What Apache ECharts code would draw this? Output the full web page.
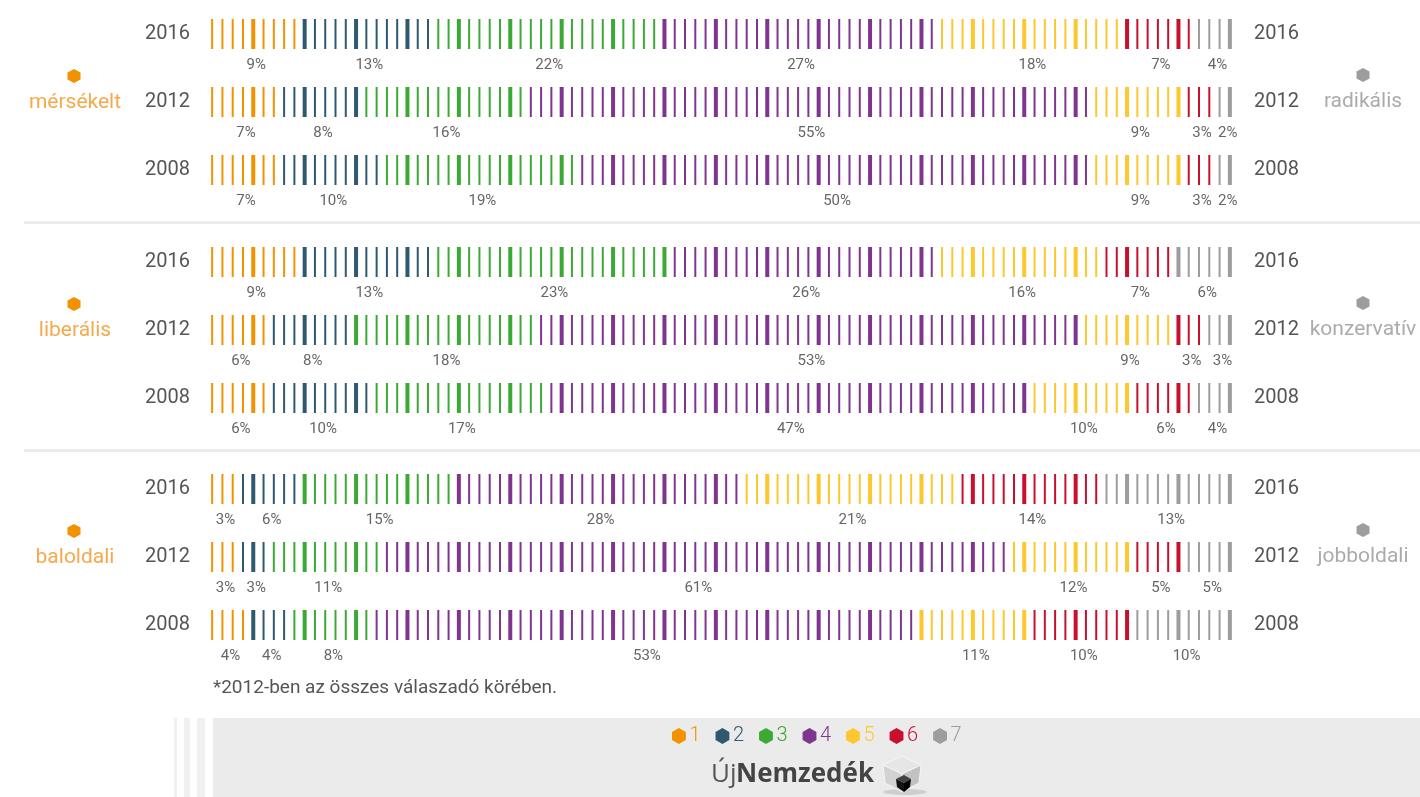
<!DOCTYPE html>
<html>
<head>
<meta charset="utf-8">
<script src="https://cdn.jsdelivr.net/npm/echarts@6/dist/echarts.min.js"></script>
<style>
  html, body { margin: 0; padding: 0; background: #fff; }
  #chart { width: 1420px; height: 797px; }
</style>
</head>
<body>
<div id="chart"></div>
<script>
// Answer categories 1..7 and their colours
const categories = ['1', '2', '3', '4', '5', '6', '7'];
const catColors = ['#f39200', '#2e5a70', '#3aaa35', '#7f3590', '#fdc72e', '#c8102e', '#9d9d9d'];

// Survey years, top to bottom within each block
const years = ['2016', '2012', '2008'];

// Scale end-point labels for each block
const leftLabels = ['mérsékelt', 'liberális', 'baloldali'];
const rightLabels = ['radikális', 'konzervatív', 'jobboldali'];

// Share of respondents (%) per category, rows = 2016, 2012, 2008
const mersekelt = [
  [9, 13, 22, 27, 18, 7, 4],
  [7, 8, 16, 55, 9, 3, 2],
  [7, 10, 19, 50, 9, 3, 2]
];
const liberalis = [
  [9, 13, 23, 26, 16, 7, 6],
  [6, 8, 18, 53, 9, 3, 3],
  [6, 10, 17, 47, 10, 6, 4]
];
const baloldali = [
  [3, 6, 15, 28, 21, 14, 13],
  [3, 3, 11, 61, 12, 5, 5],
  [4, 4, 8, 53, 11, 10, 10]
];
const blocks = [mersekelt, liberalis, baloldali];

const footnote = '*2012-ben az összes válaszadó körében.';

const FONT = 'Roboto, "Noto Sans", sans-serif';
const ROW_H = 68;
const gridTops = [0, 228, 455];
const GRID_LEFT = 207;
const GRID_W = 1028;

const chart = echarts.init(document.getElementById('chart'), null, { renderer: 'canvas' });

const grids = [], xAxes = [], yAxes = [], series = [];

blocks.forEach((block, g) => {
  grids.push({ left: GRID_LEFT, width: GRID_W, top: gridTops[g], height: ROW_H * 3 });
  xAxes.push({ gridIndex: g, type: 'value', min: 0, max: 100, show: false });
  const yBase = {
    gridIndex: g, type: 'category', data: years, inverse: true,
    axisLine: { show: false }, axisTick: { show: false }, splitLine: { show: false }
  };
  yAxes.push(Object.assign({}, yBase, {
    position: 'left',
    axisLabel: { margin: 17, fontSize: 20, color: '#555', fontFamily: FONT, padding: [4, 0, 0, 0] }
  }));
  yAxes.push(Object.assign({}, yBase, {
    position: 'right',
    axisLabel: { margin: 19, fontSize: 20, color: '#555', fontFamily: FONT, padding: [4, 0, 0, 0] }
  }));

  // one custom series per category; each data item is one segment of a row
  categories.forEach((cat, c) => {
    const data = block.map((row, yi) => {
      const start = row.slice(0, c).reduce((a, b) => a + b, 0);
      return [start, yi, row[c], row[c]];
    });
    series.push({
      type: 'custom',
      name: cat,
      xAxisIndex: g,
      yAxisIndex: g * 2,
      itemStyle: { color: catColors[c] },
      data: data,
      silent: true,
      renderItem: function (params, api) {
        const start = api.value(0);
        const yi = api.value(1);
        const n = api.value(2);
        const pct = api.value(3);
        const children = [];
        for (let k = 0; k < n; k++) {
          const i = start + k;
          const p = api.coord([i + 0.5, yi]);
          const w = (i % 5 === 4) ? 4 : 2;
          children.push({
            type: 'rect',
            shape: { x: p[0] - w / 2, y: p[1] - 15, width: w, height: 30 },
            style: { fill: catColors[c] }
          });
        }
        const m = api.coord([start + n / 2, yi]);
        children.push({
          type: 'text',
          style: {
            x: m[0] + 3, y: m[1] + 31, text: pct + '%',
            fill: '#666', font: '15px ' + FONT,
            textAlign: 'center', textVerticalAlign: 'middle'
          }
        });
        return { type: 'group', children: children };
      }
    });
  });
});

function hexPoints(cx, cy, rx, ry) {
  return [[cx, cy - ry], [cx + rx, cy - ry / 2], [cx + rx, cy + ry / 2],
          [cx, cy + ry], [cx - rx, cy + ry / 2], [cx - rx, cy - ry / 2]];
}

const graphics = [];

// block separators
[222.5, 450.5].forEach(y => {
  graphics.push({
    type: 'line', shape: { x1: 24, y1: y, x2: 1420, y2: y },
    style: { stroke: '#ebebeb', lineWidth: 3 }, silent: true
  });
});

// scale end-point labels with hexagon markers
gridTops.forEach((top, g) => {
  const cy = top + ROW_H * 1.5;
  graphics.push({ type: 'polygon', shape: { points: hexPoints(74, cy - 26, 6.5, 7) }, style: { fill: '#f39200' } });
  graphics.push({
    type: 'text', style: {
      x: 75, y: cy + 1, text: leftLabels[g], fill: '#f6a94c',
      font: '21px ' + FONT, textAlign: 'center', textVerticalAlign: 'middle'
    }
  });
  graphics.push({ type: 'polygon', shape: { points: hexPoints(1363, cy - 27, 6.5, 7) }, style: { fill: '#9d9d9d' } });
  graphics.push({
    type: 'text', style: {
      x: 1363, y: cy, text: rightLabels[g], fill: '#ababab',
      font: '21px ' + FONT, textAlign: 'center', textVerticalAlign: 'middle'
    }
  });
});

// footnote
graphics.push({
  type: 'text', style: {
    x: 213, y: 688, text: footnote, fill: '#555',
    font: '19px ' + FONT, textAlign: 'left', textVerticalAlign: 'middle'
  }
});

// footer band
graphics.push({ type: 'rect', z: -10, shape: { x: 213, y: 718, width: 1207, height: 79 }, style: { fill: '#ebebeb' } });
[[174, 3], [184, 6], [197, 8]].forEach(s => {
  graphics.push({ type: 'rect', z: -10, shape: { x: s[0], y: 718, width: s[1], height: 79 }, style: { fill: '#f0f0f0' } });
});

// logo wordmark
graphics.push({
  type: 'text', style: {
    x: 711, y: 775, text: 'Új', fill: '#555',
    font: '26px "Open Sans", sans-serif', textAlign: 'left', textVerticalAlign: 'middle'
  }
});
graphics.push({
  type: 'text', style: {
    x: 736, y: 775, text: 'Nemzedék', fill: '#444',
    font: 'bold 26px "Open Sans", sans-serif', textAlign: 'left', textVerticalAlign: 'middle'
  }
});
// logo cube
graphics.push({ type: 'ellipse', shape: { cx: 905, cy: 792, rx: 22, ry: 3 }, style: { fill: 'rgba(0,0,0,0.12)' } });
graphics.push({ type: 'polygon', shape: { points: [[902, 756], [921, 765], [902, 774], [883, 765]] }, style: { fill: '#e6e6e6', stroke: '#f6f6f6', lineWidth: 1 } });
graphics.push({ type: 'polygon', shape: { points: [[883, 765], [902, 774], [902, 792], [885, 783]] }, style: { fill: '#d2d2d2', stroke: '#f6f6f6', lineWidth: 1 } });
graphics.push({ type: 'polygon', shape: { points: [[902, 774], [921, 765], [919, 783], [902, 792]] }, style: { fill: '#c2c2c2', stroke: '#f6f6f6', lineWidth: 1 } });
graphics.push({ type: 'polygon', shape: { points: [[896, 779], [904, 775], [911, 779], [904, 783]] }, style: { fill: '#444' } });
graphics.push({ type: 'polygon', shape: { points: [[896, 779], [904, 783], [904, 792], [897, 787]] }, style: { fill: '#111' } });
graphics.push({ type: 'polygon', shape: { points: [[904, 783], [911, 779], [910, 787], [904, 792]] }, style: { fill: '#000' } });

const option = {
  animation: false,
  color: catColors,
  textStyle: { fontFamily: FONT },
  grid: grids,
  xAxis: xAxes,
  yAxis: yAxes,
  legend: {
    left: 667, top: 721,
    icon: 'path://M0,-1L0.866,-0.5L0.866,0.5L0,1L-0.866,0.5L-0.866,-0.5Z',
    itemWidth: 15, itemHeight: 16, itemGap: 15,
    selectedMode: false,
    data: categories.map((c, i) => ({
      name: c,
      itemStyle: { color: catColors[i] },
      textStyle: { color: catColors[i], fontSize: 20, fontFamily: FONT, fontWeight: 300, padding: [0, 0, 0, -2] }
    }))
  },
  graphic: graphics,
  series: series
};

chart.setOption(option);
</script>
</body>
</html>
